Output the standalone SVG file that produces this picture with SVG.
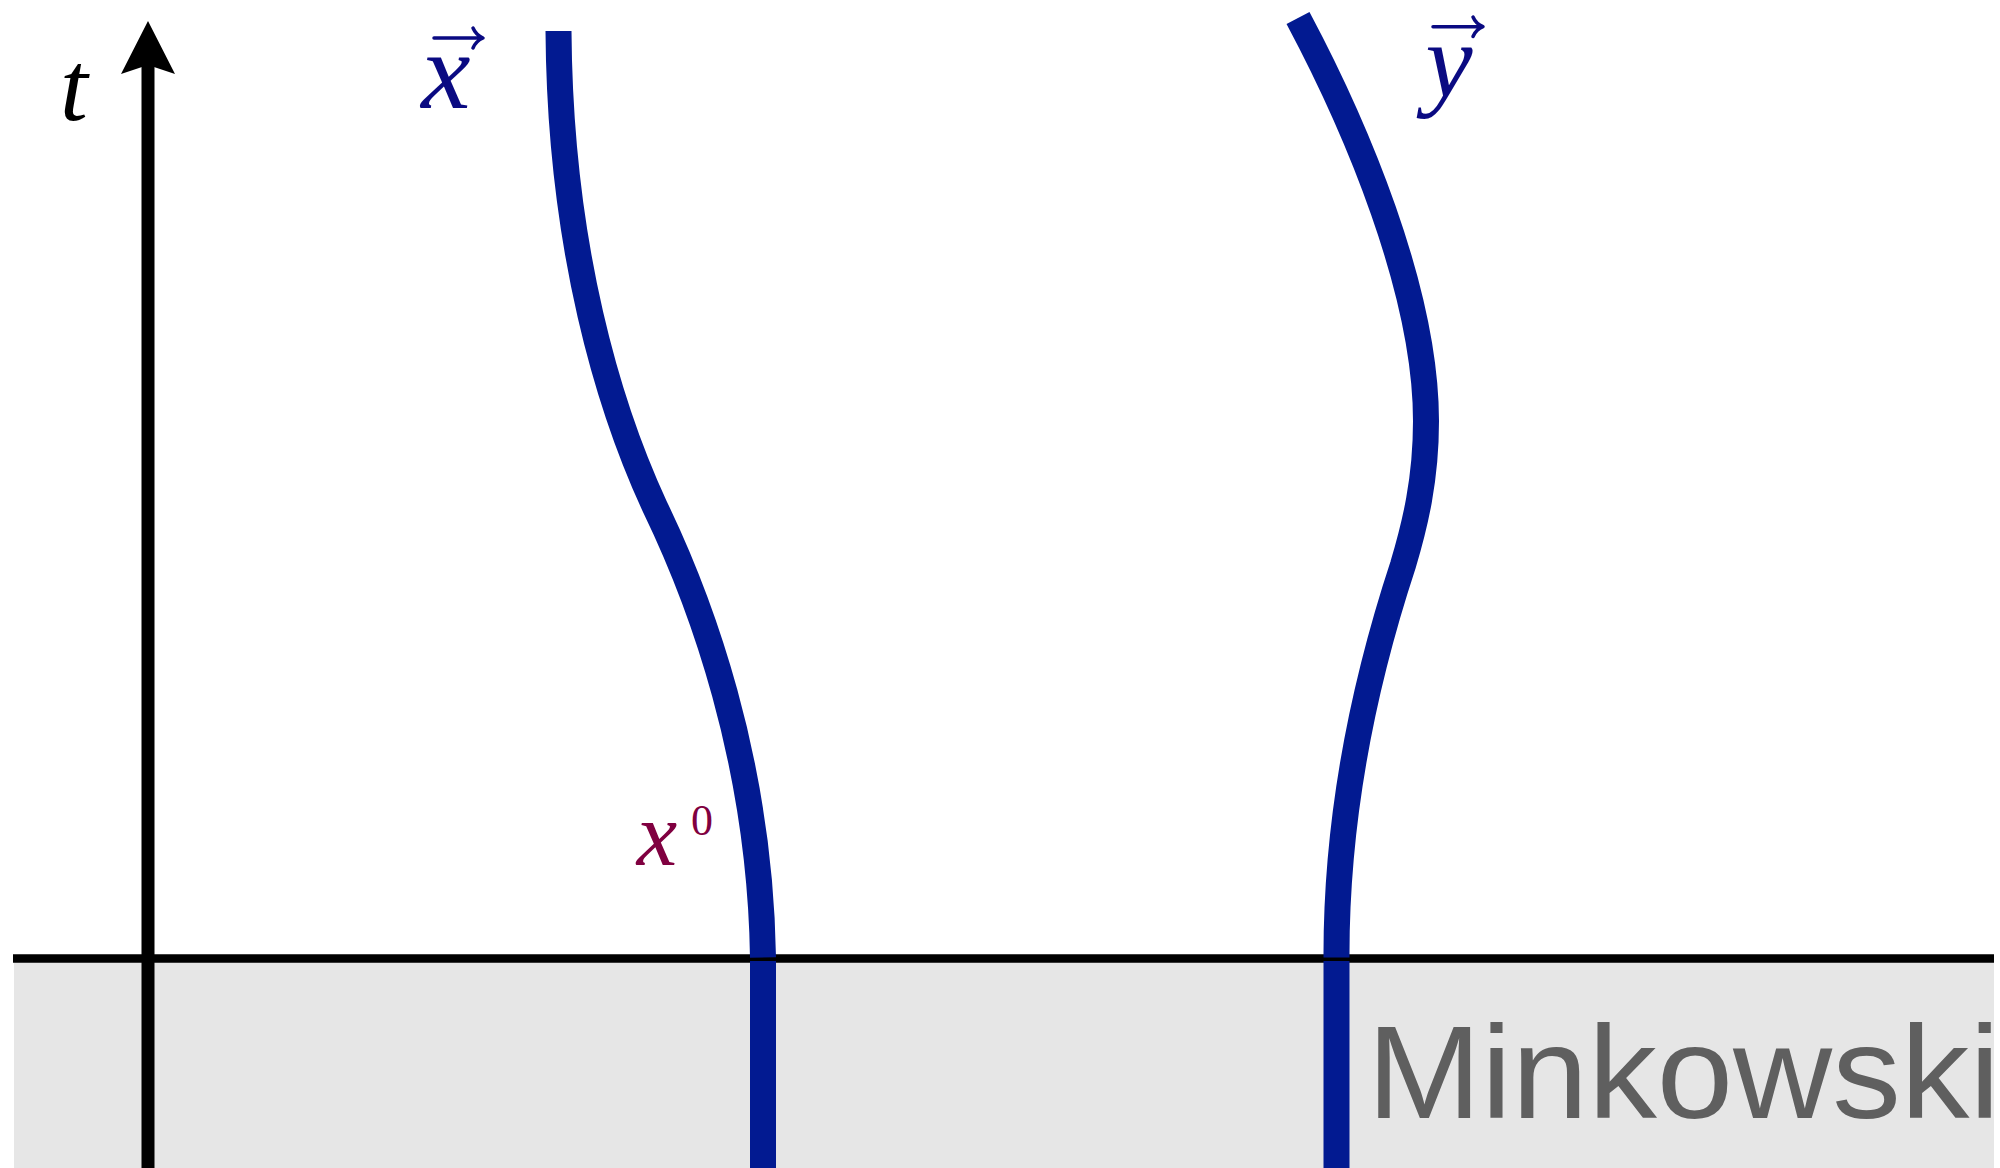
<svg xmlns="http://www.w3.org/2000/svg" width="2000" height="1168" viewBox="0 0 2000 1168">
<style>
.wl{fill:none;stroke:#021a91;stroke-width:26;stroke-linecap:butt}
.math{font-family:"Liberation Serif","DejaVu Serif",serif;font-style:italic}
.lbl{fill:#0a0a82}
.acc{fill:none;stroke:#0a0a82;stroke-width:3.5;stroke-linecap:round;stroke-linejoin:round}
</style>
<rect width="2000" height="1168" fill="#ffffff"/>
<g id="minkowski-region">
<rect x="14" y="958" width="1980" height="210" fill="#e6e6e6"/>
<text x="1367" y="1118" font-family="'Liberation Sans',Arial,sans-serif" font-size="131" fill="#5f5f5f" textLength="633" lengthAdjust="spacingAndGlyphs">Minkowski</text>
</g>
<g id="connectors">
<line x1="148" y1="1168" x2="148" y2="64" stroke="#000" stroke-width="13"/>
<polygon points="148,21 175,74 148,65 121,74" fill="#000"/>
<line x1="13" y1="958.5" x2="1994" y2="958.5" stroke="#000" stroke-width="8.4"/>
</g>
<g id="worldline-x">
<path class="wl" d="M558.5,31 C560,250 610,410 655,507 C700,600 760,760 763,957.5"/>
<line class="wl" x1="763" y1="961" x2="763" y2="1168"/>
</g>
<g id="worldline-y">
<path class="wl" d="M1298,18 C1355,125 1426,290 1426,421 C1426,480 1415,525 1403,565 C1375,650 1336,790 1336.5,957.5"/>
<line class="wl" x1="1336.5" y1="961" x2="1336.5" y2="1168"/>
</g>
<g id="label-t">
<text class="math" x="74" y="120" font-size="100" text-anchor="middle" fill="#000">t</text>
</g>
<g id="label-xvec">
<text class="math lbl" x="446" y="108" font-size="111" text-anchor="middle">x</text>
<path class="acc" d="M434,38 H481 M473,28 Q476,35 483,38 Q476,41 473,48"/>
</g>
<g id="label-yvec">
<text class="math lbl" x="1449" y="96" font-size="106" text-anchor="middle">y</text>
<path class="acc" d="M1433,26.7 H1481 M1473,17 Q1476,24 1483,26.7 Q1476,29.5 1473,36.5"/>
</g>
<g id="label-x0">
<text class="math" x="657" y="865" font-size="91" text-anchor="middle" fill="#800040">x</text>
<text x="702" y="835" font-family="'Liberation Serif','DejaVu Serif',serif" font-size="44" text-anchor="middle" fill="#800040">0</text>
</g>
</svg>
